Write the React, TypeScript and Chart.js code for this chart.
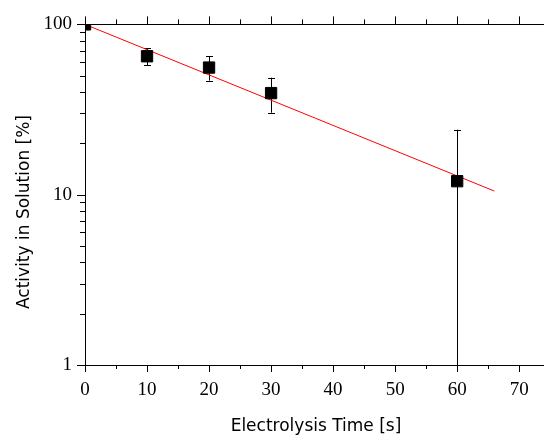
import React, { useEffect, useRef } from 'react';
import { Chart, registerables } from 'chart.js';

Chart.register(...registerables);

// ---- data ----
const times = [0, 10, 20, 30, 60];
const activity = [100, 65, 55.8, 39.5, 12.0];
const activityErr = [0, 7.5, 9.0, 9.2, 12.1];
const fitTimes = [0, 66];
const fitActivity = [100, 10.5];
const xMajorTicks = [0, 10, 20, 30, 40, 50, 60, 70];
const xMinorTicks = [5, 15, 25, 35, 45, 55, 65];
const yMajorTicks = [1, 10, 100];
const yMinorTicks = [2, 3, 4, 5, 6, 7, 8, 9, 20, 30, 40, 50, 60, 70, 80, 90];
const xTitle = 'Electrolysis Time [s]';
const yTitle = 'Activity in Solution [%]';
const X_MIN = 0;
const X_MAX = 74;
const Y_MIN = 1;
const Y_MAX = 100;

const SERIF = 'Liberation Serif';
const SANS = 'DejaVu Sans';

const decor = {
  id: 'decor',
  beforeDatasetsDraw(chart: any) {
    const { ctx, chartArea: a, scales } = chart;
    const x = scales.x;
    const y = scales.y;
    ctx.save();
    ctx.beginPath();
    ctx.rect(a.left, a.top, a.right - a.left, a.bottom - a.top);
    ctx.clip();
    ctx.strokeStyle = '#000';
    ctx.lineWidth = 1;
    times.forEach((t, i) => {
      const e = activityErr[i];
      if (!e) return;
      const px = Math.round(x.getPixelForValue(t)) + 0.5;
      const hi = activity[i] + e;
      const lo = activity[i] - e;
      const pyHi = y.getPixelForValue(hi);
      const pyLo = lo > 0 ? y.getPixelForValue(lo) : a.bottom + 5;
      ctx.beginPath();
      ctx.moveTo(px, pyHi);
      ctx.lineTo(px, pyLo);
      ctx.stroke();
      ctx.beginPath();
      ctx.moveTo(px - 3.5, Math.round(pyHi) + 0.5);
      ctx.lineTo(px + 3.5, Math.round(pyHi) + 0.5);
      if (lo > 0) {
        ctx.moveTo(px - 3.5, Math.round(pyLo) + 0.5);
        ctx.lineTo(px + 3.5, Math.round(pyLo) + 0.5);
      }
      ctx.stroke();
    });
    ctx.restore();
  },
  afterDraw(chart: any) {
    const { ctx, chartArea: a, scales } = chart;
    const x = scales.x;
    const y = scales.y;
    ctx.save();
    ctx.strokeStyle = '#000';
    ctx.lineWidth = 1;
    ctx.beginPath();
    const tickX = (v: number, len: number) => {
      const px = Math.round(x.getPixelForValue(v)) + 0.5;
      ctx.moveTo(px, a.bottom);
      ctx.lineTo(px, a.bottom + len);
      ctx.moveTo(px, a.top);
      ctx.lineTo(px, a.top - len - 1);
    };
    xMajorTicks.forEach((v) => tickX(v, 7));
    xMinorTicks.forEach((v) => tickX(v, 4));
    const tickY = (v: number, len: number) => {
      const py = Math.round(y.getPixelForValue(v)) + 0.5;
      ctx.moveTo(a.left, py);
      ctx.lineTo(a.left - len, py);
    };
    yMajorTicks.forEach((v) => tickY(v, 8));
    yMinorTicks.forEach((v) => tickY(v, 5));
    ctx.stroke();

    ctx.fillStyle = '#000';
    ctx.font = `17px ${SANS}`;
    ctx.textAlign = 'center';
    ctx.textBaseline = 'alphabetic';
    ctx.fillText(xTitle, 316, 431);
    ctx.translate(29, 212);
    ctx.rotate(-Math.PI / 2);
    ctx.fillText(yTitle, 0, 0);
    ctx.restore();
  },
};

export default function App() {
  const ref = useRef<HTMLCanvasElement | null>(null);

  useEffect(() => {
    if (!ref.current) return;
    const chart = new Chart(ref.current, {
      type: 'line',
      data: {
        datasets: [
          {
            label: 'Activity',
            data: times.map((t, i) => ({ x: t, y: activity[i] })),
            showLine: false,
            pointStyle: 'rect',
            pointRadius: 8,
            pointBackgroundColor: '#000',
            pointBorderColor: '#000',
            pointBorderWidth: 1,
            clip: 0,
          } as any,
          {
            label: 'Fit',
            data: fitTimes.map((t, i) => ({ x: t, y: fitActivity[i] })),
            borderColor: '#ff0000',
            borderWidth: 1,
            pointRadius: 0,
            fill: false,
            tension: 0,
            clip: 0,
          } as any,
        ],
      },
      options: {
        animation: false,
        responsive: true,
        maintainAspectRatio: false,
        layout: { padding: 0, autoPadding: false },
        plugins: { legend: { display: false }, tooltip: { enabled: false } },
        scales: {
          x: {
            type: 'linear',
            position: 'bottom',
            min: X_MIN,
            max: X_MAX,
            afterBuildTicks: (s: any) => {
              s.ticks = xMajorTicks.map((v) => ({ value: v }));
            },
            afterFit: (s: any) => {
              s.height = 70;
            },
            grid: { display: false, drawTicks: false },
            border: { display: true, color: '#000', width: 1 },
            ticks: {
              autoSkip: false,
              maxRotation: 0,
              padding: 14,
              color: '#000',
              font: { family: SERIF, size: 19 },
              callback: (v: any) => String(v),
            },
          },
          x2: {
            type: 'linear',
            position: 'top',
            min: X_MIN,
            max: X_MAX,
            afterFit: (s: any) => {
              s.height = 20.5;
            },
            grid: { display: false, drawTicks: false },
            border: { display: true, color: '#000', width: 1 },
            ticks: { display: false },
          },
          y: {
            type: 'logarithmic',
            position: 'left',
            min: Y_MIN,
            max: Y_MAX,
            afterBuildTicks: (s: any) => {
              s.ticks = yMajorTicks.map((v) => ({ value: v, major: true }));
            },
            afterFit: (s: any) => {
              s.width = 85;
            },
            grid: { display: false, drawTicks: false },
            border: { display: true, color: '#000', width: 1 },
            ticks: {
              autoSkip: false,
              padding: 13,
              color: '#000',
              font: { family: SERIF, size: 19 },
              callback: (v: any) => String(v),
            },
          },
        },
      } as any,
      plugins: [decor],
    });
    return () => chart.destroy();
  }, []);

  return (
    <div style={{ position: 'absolute', left: 0, top: 0, width: 544, height: 435, background: '#fff' }}>
      <canvas ref={ref} />
    </div>
  );
}
